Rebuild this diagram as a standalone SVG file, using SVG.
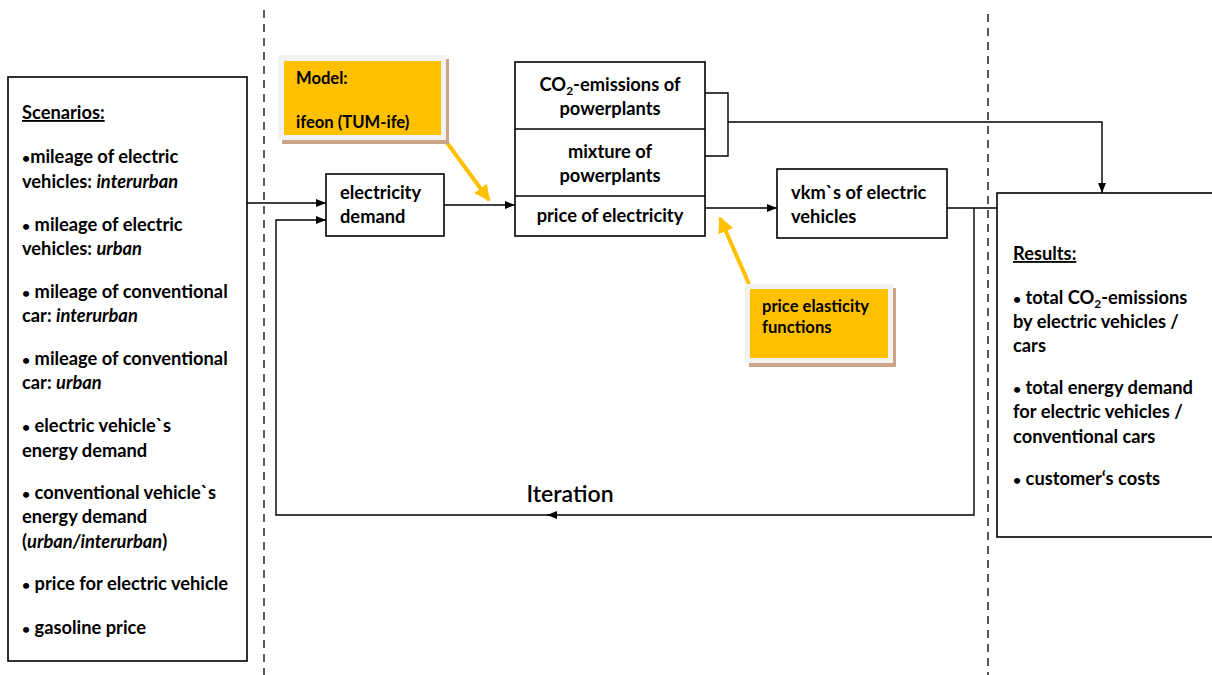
<svg xmlns="http://www.w3.org/2000/svg" width="1212" height="675" viewBox="0 0 1212 675">
<style>
text{font-family:Lato,"Liberation Sans",sans-serif;font-weight:bold;font-size:18.3px;fill:#000}
.box{fill:#fff;stroke:#000;stroke-width:1.6}
.ln{fill:none;stroke:#000;stroke-width:1.4}
.dash{fill:none;stroke:#000;stroke-width:1.3;stroke-dasharray:8 6}
.frame{fill:#f2f2f2}
.shadow{fill:#c9a688}
.yel{fill:#ffc000}
.ya{fill:none;stroke:#ffc000;stroke-width:4}
.it{font-style:italic}
.c{text-anchor:middle}
.sm{font-size:16.6px}
.b{font-size:14px}
</style>
<defs>
<marker id="ah" viewBox="0 0 10 10" refX="10" refY="5" markerWidth="10" markerHeight="10" markerUnits="userSpaceOnUse" orient="auto">
<path d="M0,1 L10,5 L0,9 z" fill="#000"/>
</marker>
<marker id="ya" viewBox="0 0 10 10" refX="9" refY="5" markerWidth="16" markerHeight="16" markerUnits="userSpaceOnUse" orient="auto">
<path d="M0,0 L10,5 L0,10 z" fill="#ffc000"/>
</marker>
</defs>
<g id="separators">
<line class="dash" x1="264" y1="10" x2="264" y2="675"/>
<line class="dash" x1="988" y1="14" x2="988" y2="675"/>
</g>
<g id="connectors">
<path class="ln" d="M247 203 H326" marker-end="url(#ah)"/>
<path class="ln" d="M444 205 H515" marker-end="url(#ah)"/>
<path class="ln" d="M705 208 H777" marker-end="url(#ah)"/>
<path class="ln" d="M705 93 H728 V156 H705"/>
<path class="ln" d="M728 122 H1102 V193" marker-end="url(#ah)"/>
<path class="ln" d="M947 208 H997"/>
<path class="ln" d="M974 208 V515 H547" marker-end="url(#ah)"/>
<path class="ln" d="M552 515 H276 V220 H326" marker-end="url(#ah)"/>
<text x="570" y="502" class="c" style="font-size:23px;font-weight:600">Iteration</text>
<path class="ya" d="M445 140 L489 200" marker-end="url(#ya)"/>
<path class="ya" d="M749 284 L720 218" marker-end="url(#ya)"/>
</g>
<g id="scenarios">
<rect class="box" x="8" y="77" width="239" height="584"/>
<text x="22" y="119" text-decoration="underline">Scenarios:</text>
<text x="22" y="163"><tspan class="b">•</tspan>mileage of electric</text>
<text x="22" y="188">vehicles: <tspan class="it">interurban</tspan></text>
<text x="22" y="231"><tspan class="b">•</tspan> mileage of electric</text>
<text x="22" y="255">vehicles: <tspan class="it">urban</tspan></text>
<text x="22" y="298"><tspan class="b">•</tspan> mileage of conventional</text>
<text x="22" y="322">car: <tspan class="it">interurban</tspan></text>
<text x="22" y="365"><tspan class="b">•</tspan> mileage of conventional</text>
<text x="22" y="389">car: <tspan class="it">urban</tspan></text>
<text x="22" y="432"><tspan class="b">•</tspan> electric vehicle`s</text>
<text x="22" y="457">energy demand</text>
<text x="22" y="499"><tspan class="b">•</tspan> conventional vehicle`s</text>
<text x="22" y="523">energy demand</text>
<text x="22" y="548">(<tspan class="it">urban/interurban</tspan>)</text>
<text x="22" y="590"><tspan class="b">•</tspan> price for electric vehicle</text>
<text x="22" y="634"><tspan class="b">•</tspan> gasoline price</text>
</g>
<g id="model">
<rect class="shadow" x="282" y="59" width="167" height="85"/>
<rect class="frame" x="278" y="55" width="168" height="85"/>
<rect class="yel" x="284" y="61" width="157" height="74"/>
<text x="296" y="84" class="sm">Model:</text>
<text x="296" y="128" class="sm">ifeon (TUM-ife)</text>
</g>
<g id="electricity-demand">
<rect class="box" x="326" y="174" width="118" height="62"/>
<text x="340" y="199">electricity</text>
<text x="340" y="223">demand</text>
</g>
<g id="powerplants">
<rect class="box" x="515" y="62" width="190" height="174"/>
<line class="ln" x1="515" y1="129" x2="705" y2="129"/>
<line class="ln" x1="515" y1="196" x2="705" y2="196"/>
<text x="610" y="91" class="c">CO<tspan font-size="12" dy="4">2</tspan><tspan dy="-4">-emissions of</tspan></text>
<text x="610" y="115" class="c">powerplants</text>
<text x="610" y="158" class="c">mixture of</text>
<text x="610" y="182" class="c">powerplants</text>
<text x="610" y="222" class="c">price of electricity</text>
</g>
<g id="vkm">
<rect class="box" x="777" y="169" width="170" height="69"/>
<text x="791" y="199">vkm`s of electric</text>
<text x="791" y="223">vehicles</text>
</g>
<g id="price-elasticity">
<rect class="shadow" x="749" y="288" width="147" height="79"/>
<rect class="frame" x="745" y="284" width="148" height="79"/>
<rect class="yel" x="750" y="289" width="138" height="69"/>
<text x="762" y="312" class="sm">price elasticity</text>
<text x="762" y="333" class="sm">functions</text>
</g>
<g id="results">
<rect class="box" x="997" y="193" width="225" height="344"/>
<text x="1013" y="260" text-decoration="underline">Results:</text>
<text x="1013" y="304"><tspan class="b">•</tspan> total CO<tspan font-size="12" dy="4">2</tspan><tspan dy="-4">-emissions</tspan></text>
<text x="1013" y="328">by electric vehicles /</text>
<text x="1013" y="352">cars</text>
<text x="1013" y="394"><tspan class="b">•</tspan> total energy demand</text>
<text x="1013" y="418">for electric vehicles /</text>
<text x="1013" y="443">conventional cars</text>
<text x="1013" y="485"><tspan class="b">•</tspan> customer‘s costs</text>
</g>
</svg>
